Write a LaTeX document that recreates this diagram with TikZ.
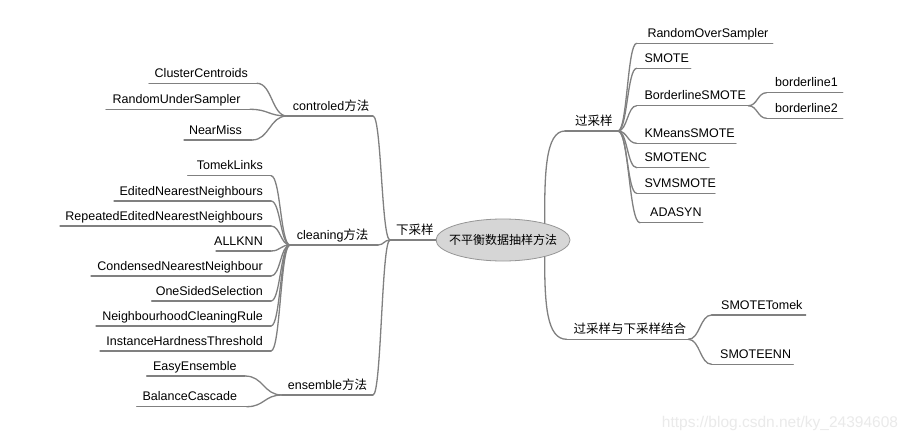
\documentclass[tikz,border=0pt]{standalone}
\usepackage{fontspec}
\setmainfont{Liberation Sans}
\newfontfamily\cjk{Noto Sans CJK SC}
\usetikzlibrary{shapes.geometric,calc}
\definecolor{linegray}{RGB}{128,128,128}
\definecolor{rootfill}{RGB}{214,214,214}
\definecolor{rootdraw}{RGB}{150,150,150}
\definecolor{wmark}{RGB}{234,234,234}
\tikzset{
  br/.style={draw=linegray, line width=1.3pt, line cap=round},
  txt/.style={inner sep=0pt, font=\fontsize{12.5}{15}\selectfont, text=black},
}
% name, anchor, text x, underline x1, underline x2, underline y, text
\newcommand\mmleaf[7]{%
  \node[txt, anchor=#2] (#1) at (#3,{#6-6}) {#7};
  \coordinate (#1-l) at (#4,#6);
  \coordinate (#1-r) at (#5,#6);
  \draw[br] (#1-l) -- (#1-r);}
\newcommand\mmlink[2]{%
  \draw[br] let \p1=(#1), \p2=(#2) in (\p1) .. controls ({(\x1+\x2)/2},\y1) and ({(\x1+\x2)/2},\y2) .. (\p2);}
\begin{document}
\begin{tikzpicture}[x=1pt,y=-1pt]
\fill[white] (0,0) rectangle (911,442);
\useasboundingbox (0,0) rectangle (911,442);

% root
\node[ellipse, fill=rootfill, draw=rootdraw, line width=0.8pt, minimum width=134pt, minimum height=42pt, inner sep=0pt, font=\cjk\fontsize{12}{14}\selectfont] (root) at (503,240) {\makebox[0pt][c]{不平衡数据抽样方法}};

% ---------- left: down-sampling ----------
\mmleaf{down}{base west}{396}{390}{436}{240}{{\cjk 下采样}}

\mmleaf{ctl}{base west}{292.7}{287}{373}{116}{controled{\cjk 方法}}
\mmleaf{cln}{base west}{296.7}{290}{378}{245}{cleaning{\cjk 方法}}
\mmleaf{ens}{base west}{287.7}{282}{373}{395}{ensemble{\cjk 方法}}
\mmlink{ctl-r}{down-l}
\mmlink{cln-r}{down-l}
\mmlink{ens-r}{down-l}

% controled children
\mmleaf{cc}{base east}{248}{149}{257}{83.3}{ClusterCentroids}
\mmleaf{rus}{base east}{240.7}{106}{250}{109.3}{RandomUnderSampler}
\mmleaf{nm}{base east}{242}{184}{252}{140}{NearMiss}
\mmlink{cc-r}{ctl-l}
\mmlink{rus-r}{ctl-l}
\mmlink{nm-r}{ctl-l}

% cleaning children
\mmleaf{tl}{base east}{263}{187.7}{271}{175.7}{TomekLinks}
\mmleaf{enn}{base east}{263}{114}{271}{201}{EditedNearestNeighbours}
\mmleaf{renn}{base east}{263}{60}{271}{226}{RepeatedEditedNearestNeighbours}
\mmleaf{aknn}{base east}{263}{216}{271}{251}{ALLKNN}
\mmleaf{cnn}{base east}{263}{91}{271}{276}{CondensedNearestNeighbour}
\mmleaf{oss}{base east}{263}{151.7}{271}{301}{OneSidedSelection}
\mmleaf{ncr}{base east}{263}{96}{271}{326}{NeighbourhoodCleaningRule}
\mmleaf{iht}{base east}{263}{100}{271}{351}{InstanceHardnessThreshold}
\foreach \c in {tl,enn,renn,aknn,cnn,oss,ncr,iht}{\mmlink{\c-r}{cln-l}}

% ensemble children
\mmleaf{ee}{base east}{236.7}{146.7}{245}{376}{EasyEnsemble}
\mmleaf{bc}{base east}{237.3}{136.7}{246.7}{406.7}{BalanceCascade}
\mmlink{ee-r}{ens-l}
\mmlink{bc-r}{ens-l}

% ---------- right: over-sampling ----------
\mmleaf{ovr}{base west}{575}{565}{618}{131}{{\cjk 过采样}}
\draw[br] (root.22) .. controls +(0,-48) and +(-20,0) .. (ovr-l);

\mmleaf{ros}{base west}{647.3}{636.7}{772.7}{43.3}{RandomOverSampler}
\mmleaf{sm}{base west}{644.3}{636.7}{690.7}{68.3}{SMOTE}
\mmleaf{bsm}{base west}{644.3}{636.7}{748.3}{105.7}{BorderlineSMOTE}
\mmleaf{km}{base west}{644.3}{636.7}{736}{143.3}{KMeansSMOTE}
\mmleaf{snc}{base west}{644.3}{636.7}{709}{167.7}{SMOTENC}
\mmleaf{svm}{base west}{644.3}{636.7}{715}{193.3}{SVMSMOTE}
\mmleaf{ada}{base west}{650}{640}{702.7}{222.7}{ADASYN}
\foreach \c in {ros,sm,bsm,km,snc,svm,ada}{\mmlink{ovr-r}{\c-l}}

\mmleaf{bl1}{base west}{775}{766.7}{842.7}{92.7}{borderline1}
\mmleaf{bl2}{base west}{775}{766.7}{842.7}{118.3}{borderline2}
\mmlink{bsm-r}{bl1-l}
\mmlink{bsm-r}{bl2-l}

% ---------- right: combined ----------
\mmleaf{cmb}{base west}{573.3}{566.7}{688.3}{339.3}{{\cjk 过采样与下采样结合}}
\draw[br] (root.-22) .. controls +(0,48) and +(-20,0) .. (cmb-l);

\mmleaf{st}{base west}{721}{711.7}{805.7}{315}{SMOTETomek}
\mmleaf{se}{base west}{720}{711.7}{793.3}{364.3}{SMOTEENN}
\mmlink{cmb-r}{st-l}
\mmlink{cmb-r}{se-l}

% watermark
\node[inner sep=0pt, text=wmark, font=\fontsize{15.5}{17}\selectfont] (wm) at (780,423) {https://blog.csdn.net/ky\_24394608};
\end{tikzpicture}
\end{document}
